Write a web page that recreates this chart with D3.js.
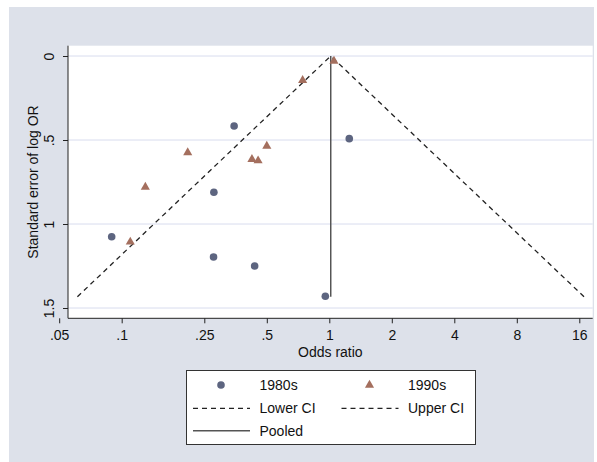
<!DOCTYPE html>
<html><head><meta charset="utf-8">
<script src="https://cdn.jsdelivr.net/npm/d3@7"></script>
<style>body{margin:0;background:#fff;} text{font-family:"Liberation Sans",Arial,sans-serif;}</style>
</head><body>
<svg id="c" width="597" height="462"></svg>
<script>
// Data (odds ratio, standard error of log OR)
const or1980 = [0.0895, 0.278, 0.348, 0.277, 0.437, 0.957, 1.248];
const se1980 = [1.076, 0.811, 0.417, 1.196, 1.250, 1.430, 0.492];
const or1990 = [0.208, 0.130, 0.110, 0.424, 0.454, 0.500, 0.744, 1.053];
const se1990 = [0.575, 0.780, 1.107, 0.615, 0.623, 0.536, 0.145, 0.030];
const lowerCI_or = [0.0612, 1.016];
const lowerCI_se = [1.433, 0];
const upperCI_or = [16.86, 1.016];
const upperCI_se = [1.433, 0];
const pooled_or = [1.016, 1.016];
const pooled_se = [0, 1.433];
const xTicks = [0.05, 0.1, 0.25, 0.5, 1, 2, 4, 8, 16];
const xTickLabels = [".05", ".1", ".25", ".5", "1", "2", "4", "8", "16"];
const yTicks = [0, 0.5, 1, 1.5];
const yTickLabels = ["0", ".5", "1", "1.5"];
const legendLabels = ["1980s", "1990s", "Lower CI", "Upper CI", "Pooled"];

const svg = d3.select("#c");
const L = 68, R = 592.7, T = 45.7, B = 318.3;
const bg = "#dde1ea";
svg.append("rect").attr("x", 9).attr("y", 7).attr("width", 585).attr("height", 460).attr("fill", bg);
svg.append("rect").attr("x", L).attr("y", T).attr("width", R - L).attr("height", B - T).attr("fill", "#fff");

const x = d3.scaleLog().base(2).domain([Math.pow(2, (L - 329.3) / 62.5), Math.pow(2, (R - 329.3) / 62.5)]).range([L, R]);
const y = d3.scaleLinear().domain([0, 1.5]).range([56, 308]);

// grid
svg.append("g").selectAll("line").data(yTicks).join("line")
  .attr("x1", L).attr("x2", R).attr("y1", d => y(d)).attr("y2", d => y(d))
  .attr("stroke", "#d8dcee").attr("stroke-width", 1);

// axes
const xAxis = d3.axisBottom(x).tickValues(xTicks).tickSize(5).tickFormat((d, i) => xTickLabels[i]);
const gx = svg.append("g").attr("transform", `translate(0,${B})`).call(xAxis);
gx.select(".domain").remove();
gx.selectAll("line").attr("stroke", "#222");
gx.selectAll("text").attr("font-size", 14).attr("fill", "#111").attr("dy", 0).attr("y", 22);
svg.append("line").attr("x1", L).attr("x2", R).attr("y1", B).attr("y2", B).attr("stroke", "#222");

const yAxis = d3.axisLeft(y).tickValues(yTicks).tickSize(5).tickFormat((d, i) => yTickLabels[i]);
const gy = svg.append("g").attr("transform", `translate(${L},0)`).call(yAxis);
gy.select(".domain").remove();
gy.selectAll("line").attr("stroke", "#222");
gy.selectAll("text").attr("font-size", 14).attr("fill", "#111")
  .attr("x", 0).attr("dy", 0).attr("text-anchor", "middle")
  .attr("transform", "translate(-14.5,0) rotate(-90)");
svg.append("line").attr("x1", L).attr("x2", L).attr("y1", T).attr("y2", B).attr("stroke", "#222");

// titles
svg.append("text").attr("x", (L + R) / 2).attr("y", 357).attr("text-anchor", "middle").attr("font-size", 14).attr("fill", "#111").text("Odds ratio");
svg.append("text").attr("transform", `translate(37.5,${(T + B) / 2}) rotate(-90)`).attr("text-anchor", "middle").attr("font-size", 14).attr("fill", "#111").text("Standard error of log OR");

// lines
const line = d3.line().x(d => x(d[0])).y(d => y(d[1]));
svg.append("path").attr("d", line(lowerCI_or.map((v, i) => [v, lowerCI_se[i]]))).attr("fill", "none").attr("stroke", "#222").attr("stroke-width", 1.3).attr("stroke-dasharray", "5,4");
svg.append("path").attr("d", line(upperCI_or.map((v, i) => [v, upperCI_se[i]]))).attr("fill", "none").attr("stroke", "#222").attr("stroke-width", 1.3).attr("stroke-dasharray", "5,4");
svg.append("path").attr("d", line(pooled_or.map((v, i) => [v, pooled_se[i]]))).attr("fill", "none").attr("stroke", "#555").attr("stroke-width", 1.5);

// markers
const dotCol = "#5d6580", triCol = "#a46f5e";
svg.append("g").selectAll("circle").data(or1980.map((v, i) => [v, se1980[i]])).join("circle")
  .attr("cx", d => x(d[0])).attr("cy", d => y(d[1])).attr("r", 3.8).attr("fill", dotCol);
const tri = d3.symbol().type(d3.symbolTriangle).size(36);
svg.append("g").selectAll("path").data(or1990.map((v, i) => [v, se1990[i]])).join("path")
  .attr("d", tri).attr("transform", d => `translate(${x(d[0])},${y(d[1])})`).attr("fill", triCol);

// legend
const lg = svg.append("g");
lg.append("rect").attr("x", 186.5).attr("y", 370.5).attr("width", 289).attr("height", 74).attr("fill", "#fff").attr("stroke", "#333").attr("stroke-width", 1);
const rows = [385, 408.3, 430.7];
lg.append("circle").attr("cx", 221).attr("cy", rows[0]).attr("r", 3.8).attr("fill", dotCol);
lg.append("path").attr("d", tri).attr("transform", `translate(369.5,${rows[0]})`).attr("fill", triCol);
lg.append("line").attr("x1", 193).attr("x2", 250).attr("y1", rows[1]).attr("y2", rows[1]).attr("stroke", "#222").attr("stroke-width", 1.3).attr("stroke-dasharray", "5,4");
lg.append("line").attr("x1", 341.5).attr("x2", 398.5).attr("y1", rows[1]).attr("y2", rows[1]).attr("stroke", "#222").attr("stroke-width", 1.3).attr("stroke-dasharray", "5,4");
lg.append("line").attr("x1", 193).attr("x2", 250).attr("y1", rows[2]).attr("y2", rows[2]).attr("stroke", "#555").attr("stroke-width", 1.5);
const lpos = [[259.5, rows[0]], [408, rows[0]], [259.5, rows[1]], [408, rows[1]], [259.5, rows[2]]];
lg.selectAll("text").data(legendLabels).join("text")
  .attr("x", (d, i) => lpos[i][0]).attr("y", (d, i) => lpos[i][1] + 5)
  .attr("font-size", 14).attr("fill", "#111").text(d => d);
</script>
</body></html>
